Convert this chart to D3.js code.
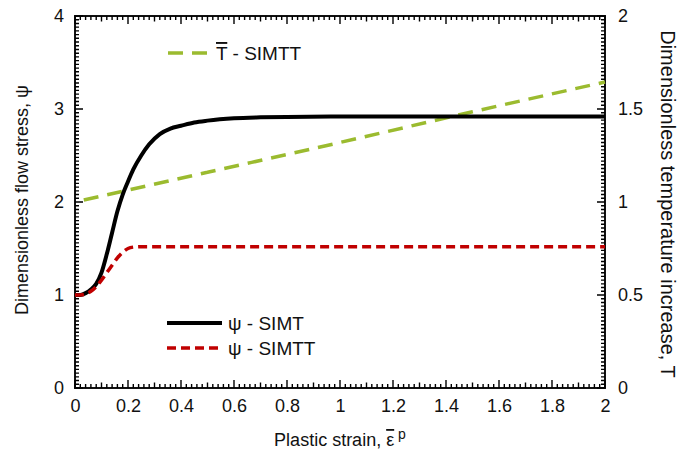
<!DOCTYPE html>
<html>
<head>
<meta charset="utf-8">
<script src="https://cdn.jsdelivr.net/npm/d3@7"></script>
</head>
<body style="margin:0">
<div id="chart"></div>
<script>
// data
var strainSimt = [0, 0.02, 0.04, 0.06, 0.08, 0.10, 0.12, 0.14, 0.16, 0.18, 0.20, 0.22, 0.25, 0.28, 0.32, 0.36, 0.40, 0.45, 0.50, 0.60, 0.70, 0.80, 1.0, 1.5, 2.0];
var psiSimt = [1.0, 1.0, 1.02, 1.06, 1.12, 1.24, 1.44, 1.67, 1.90, 2.08, 2.22, 2.35, 2.50, 2.62, 2.73, 2.79, 2.82, 2.855, 2.875, 2.90, 2.91, 2.915, 2.92, 2.92, 2.92];

var strainSimtt = [0, 0.02, 0.04, 0.06, 0.08, 0.10, 0.12, 0.14, 0.16, 0.18, 0.20, 0.22, 0.25, 0.30, 1.0, 2.0];
var psiSimtt = [1.0, 1.0, 1.01, 1.04, 1.09, 1.16, 1.24, 1.32, 1.40, 1.46, 1.50, 1.515, 1.52, 1.52, 1.52, 1.52];

var strainTemp = [0, 0.5, 1.0, 1.5, 2.0];
var tempSimtt = [1.0, 1.16, 1.32, 1.485, 1.645];

var xTicks = [0, 0.2, 0.4, 0.6, 0.8, 1, 1.2, 1.4, 1.6, 1.8, 2];
var yTicks = [0, 1, 2, 3, 4];
var y2Ticks = [0, 0.5, 1, 1.5, 2];

var svgWidth = 687;
var svgHeight = 457;
var fontFamily = "Liberation Sans, Arial, sans-serif";

var margin = {
  top: 16,
  right: 82,
  bottom: 69,
  left: 75
};

var width = svgWidth - margin.left - margin.right;
var height = svgHeight - margin.top - margin.bottom;

var svg = d3.select("#chart")
  .append("svg")
  .attr("width", svgWidth)
  .attr("height", svgHeight)
  .attr("font-family", fontFamily);

var chartGroup = svg.append("g")
  .attr("transform", `translate(${margin.left}, ${margin.top})`);

// scales
var xScale = d3.scaleLinear().domain([0, 2]).range([0, width]);
var yScale = d3.scaleLinear().domain([0, 4]).range([height, 0]);
var y2Scale = d3.scaleLinear().domain([0, 2]).range([height, 0]);

// frame
chartGroup.append("rect")
  .attr("width", width)
  .attr("height", height)
  .attr("fill", "none")
  .attr("stroke", "#111")
  .attr("stroke-width", 2);

// inward tick marks
var xMinor = d3.range(0, 101).map(i => i * 0.02);
var yMinor = d3.range(0, 101).map(i => i * 0.04);
var y2Minor = d3.range(0, 101).map(i => i * 0.02);

function xTickLen(i) { return i % 10 === 0 ? 8 : (i % 5 === 0 ? 5.5 : 4); }
function yTickLen(i) { return i % 25 === 0 ? 8 : 4; }

var tickPath = d3.path();
xMinor.forEach(function(d, i) {
  var x = xScale(d);
  tickPath.moveTo(x, height);
  tickPath.lineTo(x, height - xTickLen(i));
  tickPath.moveTo(x, 0);
  tickPath.lineTo(x, xTickLen(i));
});
yMinor.forEach(function(d, i) {
  tickPath.moveTo(0, yScale(d));
  tickPath.lineTo(yTickLen(i), yScale(d));
});
y2Minor.forEach(function(d, i) {
  tickPath.moveTo(width, y2Scale(d));
  tickPath.lineTo(width - yTickLen(i), y2Scale(d));
});

chartGroup.append("path")
  .attr("d", tickPath.toString())
  .attr("fill", "none")
  .attr("stroke", "#000")
  .attr("stroke-width", 1.4);

// tick labels
var bottomAxis = d3.axisBottom(xScale).tickValues(xTicks).tickSize(0).tickPadding(11)
  .tickFormat(d => String(+d.toFixed(1)));
var leftAxis = d3.axisLeft(yScale).tickValues(yTicks).tickSize(0).tickPadding(11)
  .tickFormat(d => String(d));
var rightAxis = d3.axisRight(y2Scale).tickValues(y2Ticks).tickSize(0).tickPadding(13)
  .tickFormat(d => String(d));

[[bottomAxis, `translate(0, ${height})`], [leftAxis, "translate(0, 0)"], [rightAxis, `translate(${width}, 0)`]]
  .forEach(function(a) {
    var g = chartGroup.append("g").attr("transform", a[1]).call(a[0]);
    g.select(".domain").remove();
    g.selectAll("line").remove();
    g.selectAll("text").attr("font-size", "18px").attr("font-family", fontFamily).attr("fill", "#111");
  });

// curves
var line = d3.line()
  .x(d => xScale(d[0]))
  .y(d => d[2](d[1]))
  .curve(d3.curveMonotoneX);

function zip(xs, ys, scale) {
  return xs.map((x, i) => [x, ys[i], scale]);
}

chartGroup.append("path")
  .attr("d", line(zip(strainTemp, tempSimtt, y2Scale)))
  .attr("fill", "none")
  .attr("stroke", "#9bbb2f")
  .attr("stroke-width", 3.5)
  .attr("stroke-dasharray", "15,9")
  .attr("stroke-dashoffset", 15);

chartGroup.append("path")
  .attr("d", line(zip(strainSimt, psiSimt, yScale)))
  .attr("fill", "none")
  .attr("stroke", "#000")
  .attr("stroke-width", 4);

chartGroup.append("path")
  .attr("d", line(zip(strainSimtt, psiSimtt, yScale)))
  .attr("fill", "none")
  .attr("stroke", "#c00000")
  .attr("stroke-width", 3.5)
  .attr("stroke-dasharray", "9,5");

// legends
var legend = [
  { x1: 168, x2: 210, y: 53, color: "#9bbb2f", dash: "15,9", label: "T", sub: " - SIMTT", bar: true },
  { x1: 167, x2: 222, y: 323, color: "#000", dash: null, label: "\u03c8", sub: " - SIMT", bar: false },
  { x1: 167, x2: 222, y: 348, color: "#c00000", dash: "9,5", label: "\u03c8", sub: " - SIMTT", bar: false }
];

legend.forEach(function(l) {
  svg.append("path")
    .attr("d", `M${l.x1},${l.y}H${l.x2}`)
    .attr("stroke", l.color)
    .attr("stroke-width", l.dash ? 3.5 : 4)
    .attr("stroke-dasharray", l.dash);
  var t = svg.append("text")
    .attr("x", l.x2 + 6)
    .attr("y", l.y + 7)
    .attr("fill", "#111")
    .attr("font-size", "19px");
  t.append("tspan").text(l.label).attr("text-decoration", l.bar ? "overline" : null);
  t.append("tspan").text(l.sub);
});

// axis titles
svg.append("text")
  .attr("transform", "translate(28, 200) rotate(-90)")
  .attr("text-anchor", "middle")
  .attr("fill", "#111")
  .attr("font-size", "18px")
  .text("Dimensionless flow stress, \u03c8");

svg.append("text")
  .attr("transform", `translate(661, ${margin.top + height / 2 + 2}) rotate(90)`)
  .attr("text-anchor", "middle")
  .attr("fill", "#111")
  .attr("font-size", "20px")
  .text("Dimensionless temperature increase, T");

var xt = svg.append("text")
  .attr("x", margin.left + width / 2)
  .attr("y", 446)
  .attr("text-anchor", "middle")
  .attr("fill", "#111")
  .attr("font-size", "18px");
xt.append("tspan").text("Plastic strain, ");
xt.append("tspan").text("\u03b5").attr("text-decoration", "overline");
xt.append("tspan").text(" p").attr("dy", -7).attr("font-size", "14px");
</script>
</body>
</html>
